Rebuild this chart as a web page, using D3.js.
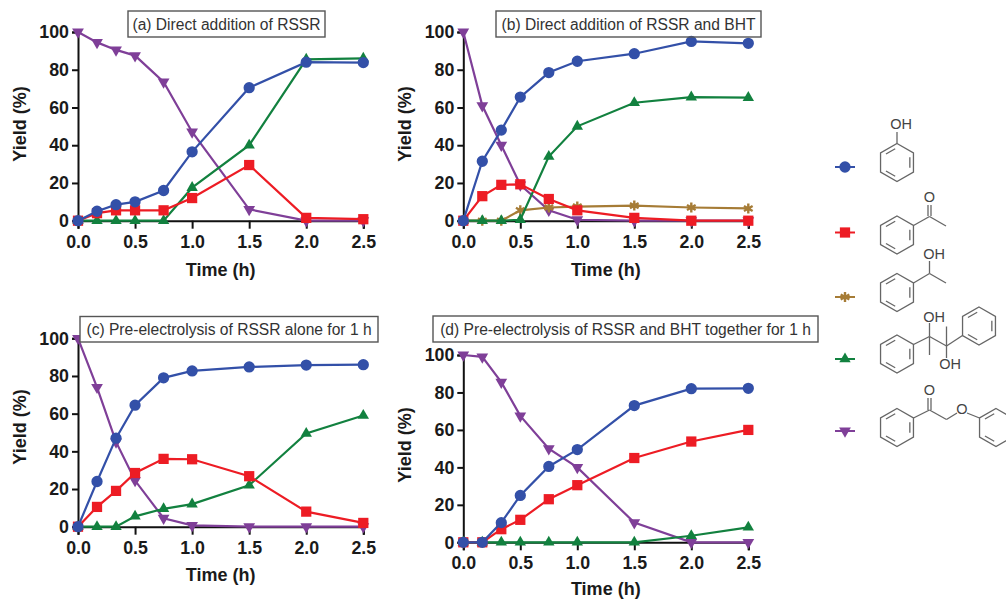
<!DOCTYPE html>
<html>
<head>
<meta charset="utf-8">
<script src="https://cdn.jsdelivr.net/npm/d3@7"></script>
<style>
  body { margin: 0; background: #fff; }
  svg { display: block; }
  text { font-family: "Liberation Sans", Arial, sans-serif; fill: #1a1a1a; }
  .tick text { font-size: 17.8px; font-weight: bold; }
  .axis-title { font-size: 18px; font-weight: bold; }
  .panel-title { font-size: 15.6px; fill: #333; }
  .atom { font-size: 14.5px; fill: #444; }
</style>
</head>
<body>
<svg id="chart" width="1006" height="599"></svg>
<script>
const times = [0, 1/6, 1/3, 0.5, 0.75, 1, 1.5, 2, 2.5];
const xTicks = [0, 0.5, 1, 1.5, 2, 2.5];
const yTicks = [0, 20, 40, 60, 80, 100];

const titles = [
  "(a) Direct addition of RSSR",
  "(b) Direct addition of RSSR and BHT",
  "(c) Pre-electrolysis of RSSR alone for 1 h",
  "(d) Pre-electrolysis of RSSR and BHT together for 1 h"
];

// a
const startA = [100, 94.5, 90.5, 87.5, 73.5, 47, 6, 0, 0];
const pinacolA = [0, 0, 0, 0, 0, 17.5, 40, 85.5, 86];
const ketoneA = [0, 4, 5.5, 5.5, 5.5, 12, 29.5, 1.5, 0.8];
const phenolA = [0, 5, 8.5, 10, 16, 36.5, 70.5, 84, 83.8];
// b
const startB = [100, 61, 40, 19, 5.5, 0.5, 0, 0, 0];
const pinacolB = [0, 0, 0, 0.5, 34, 50, 62.5, 65.5, 65.2];
const alcoholB = [0, 0, 0, 5.5, 7, 7.5, 8, 7, 6.5];
const ketoneB = [0, 13, 19, 19.3, 11.5, 5.5, 1.5, 0, 0];
const phenolB = [0, 31.5, 48, 65.5, 78.5, 84.5, 88.5, 95, 94];
// c
const startC = [100, 74, 45, 24.5, 4.5, 0.7, 0, 0, 0];
const pinacolC = [0, 0, 0, 5.5, 9.5, 12, 22, 49.5, 59];
const ketoneC = [0, 10.5, 19, 28.5, 36, 35.8, 26.8, 8, 2];
const phenolC = [0, 24, 47, 64.5, 79, 82.7, 84.8, 85.8, 86];
// d
const startD = [100, 99, 85.5, 67.5, 50, 40, 10.5, 0, 0];
const pinacolD = [0, 0, 0, 0, 0, 0, 0, 3.5, 8];
const ketoneD = [0, 0, 7, 12, 23, 30.5, 45, 53.8, 60];
const phenolD = [0, 0, 10.5, 25, 40.5, 49.5, 73, 82, 82.2];

const colors = {
  phenol: "#3350a8",
  ketone: "#ed1c24",
  alcohol: "#a67c36",
  pinacol: "#12813f",
  start: "#7f3f98"
};

const symbols = {
  phenol: d3.symbol().type(d3.symbolCircle).size(100),
  ketone: d3.symbol().type(d3.symbolSquare).size(105),
  alcohol: d3.symbol().type(d3.symbolAsterisk).size(70),
  pinacol: d3.symbol().type(d3.symbolTriangle).size(56),
  start: d3.symbol().type(d3.symbolTriangle).size(60)
};

// draw order is back to front, same as the original graph
const panels = [
  { x0: 78, x1: 363.3, y0: 220.7, y1: 32, labelX: 20, labelY: 124, titleY: 270,
    box: [128, 11, 197, 26],
    series: { start: startA, pinacol: pinacolA, ketone: ketoneA, phenol: phenolA } },
  { x0: 463.3, x1: 748.3, y0: 220.7, y1: 32, labelX: 405, labelY: 124, titleY: 270,
    box: [496, 11, 265, 26],
    series: { start: startB, alcohol: alcoholB, pinacol: pinacolB, ketone: ketoneB, phenol: phenolB } },
  { x0: 78, x1: 363.3, y0: 526.7, y1: 338.3, labelX: 20, labelY: 427, titleY: 575,
    box: [80, 316.5, 298, 25.5],
    series: { start: startC, pinacol: pinacolC, ketone: ketoneC, phenol: phenolC } },
  { x0: 463.3, x1: 748.3, y0: 542.3, y1: 355, labelX: 405, labelY: 445, titleY: 589,
    box: [433, 316, 385, 26],
    series: { start: startD, pinacol: pinacolD, ketone: ketoneD, phenol: phenolD } }
];

const svg = d3.select("#chart");

function marker(g, key) {
  const m = g.append("path").attr("d", symbols[key]());
  if (key === "alcohol") {
    m.attr("fill", "none").attr("stroke", colors[key]).attr("stroke-width", 2.4);
  } else {
    m.attr("fill", colors[key]);
  }
  return m;
}

panels.forEach((p, i) => {
  const x = d3.scaleLinear().domain([0, 2.5]).range([p.x0, p.x1]);
  const y = d3.scaleLinear().domain([0, 100]).range([p.y0, p.y1]);

  const xAxis = svg.append("g")
    .attr("transform", `translate(0,${p.y0})`)
    .call(d3.axisBottom(x).tickValues(xTicks).tickFormat(d3.format(".1f")).tickSizeOuter(0).tickSize(8).tickPadding(6.5));
  const yAxis = svg.append("g")
    .attr("transform", `translate(${p.x0},0)`)
    .call(d3.axisLeft(y).tickValues(yTicks).tickSizeOuter(0).tickSize(6).tickPadding(3));
  [xAxis, yAxis].forEach(a => {
    a.selectAll("path, line").attr("stroke", "#111").attr("stroke-width", 2);
  });

  svg.append("text").attr("class", "axis-title")
    .attr("x", (p.x0 + p.x1) / 2).attr("y", p.titleY + 6)
    .attr("text-anchor", "middle").text("Time (h)");
  svg.append("text").attr("class", "axis-title")
    .attr("transform", `translate(${p.labelX + 6},${p.labelY}) rotate(-90)`)
    .attr("text-anchor", "middle").text("Yield (%)");

  const line = d3.line().x((d, j) => x(times[j])).y(d => y(d));

  Object.entries(p.series).forEach(([key, values]) => {
    const g = svg.append("g");
    g.append("path")
      .attr("d", line(values))
      .attr("fill", "none")
      .attr("stroke", colors[key])
      .attr("stroke-width", 2.2);
    values.forEach((v, j) => {
      const flip = key === "start" ? " rotate(180)" : "";
      marker(g, key).attr("transform", `translate(${x(times[j])},${y(v)})${flip}`);
    });
  });

  const [bx, by, bw, bh] = p.box;
  svg.append("rect")
    .attr("x", bx).attr("y", by).attr("width", bw).attr("height", bh)
    .attr("fill", i === 2 || i === 3 ? "#fff" : "none")
    .attr("stroke", "#555").attr("stroke-width", 1.4);
  svg.append("text").attr("class", "panel-title")
    .attr("x", bx + bw / 2).attr("y", by + bh / 2 + 5.5)
    .attr("text-anchor", "middle").text(titles[i]);
});

// legend, marker on a short line + the structure next to it
const legendKeys = ["phenol", "ketone", "alcohol", "pinacol", "start"];
const legendY = [167, 232.5, 297, 359, 431];

legendKeys.forEach((key, i) => {
  const g = svg.append("g").attr("transform", `translate(845,${legendY[i]})`);
  g.append("line").attr("x1", -10).attr("x2", 10)
    .attr("stroke", colors[key]).attr("stroke-width", 2);
  const m = marker(g, key);
  if (key === "start") m.attr("transform", "rotate(180)");
});

const bondColor = "#666";

function bond(x1, y1, x2, y2) {
  svg.append("line")
    .attr("x1", x1).attr("y1", y1).attr("x2", x2).attr("y2", y2)
    .attr("stroke", bondColor).attr("stroke-width", 1.3);
}

function ring(cx, cy) {
  const r = 19;
  const pts = d3.range(6).map(k => {
    const a = Math.PI / 3 * k;
    return [cx + r * Math.sin(a), cy - r * Math.cos(a)];
  });
  svg.append("path")
    .attr("d", d3.line().curve(d3.curveLinearClosed)(pts))
    .attr("fill", "none").attr("stroke", bondColor).attr("stroke-width", 1.3);
  // inner double bonds
  [1, 3, 5].forEach(k => {
    const a = pts[k], b = pts[(k + 1) % 6];
    const s = 0.78;
    const t = 0.14;
    const ax = cx + (a[0] - cx) * s, ay = cy + (a[1] - cy) * s;
    const bx = cx + (b[0] - cx) * s, by = cy + (b[1] - cy) * s;
    bond(ax + (bx - ax) * t, ay + (by - ay) * t, bx - (bx - ax) * t, by - (by - ay) * t);
  });
}

function atom(x, y, s) {
  svg.append("text").attr("class", "atom")
    .attr("x", x).attr("y", y + 5).attr("text-anchor", "middle").text(s);
}

// phenol
ring(897, 162.5);
bond(897, 143.5, 897, 132);
atom(901, 124, "OH");

// acetophenone
ring(897, 235);
bond(913.5, 225.5, 929.5, 216.5);
bond(928, 216, 928, 205);
bond(931, 216, 931, 205);
bond(929.5, 216.5, 946, 226);
atom(929.5, 197, "O");

// 1-phenylethanol
ring(897, 292.5);
bond(913.5, 283, 929.5, 273.5);
bond(929.5, 273.5, 946, 283);
bond(929.5, 273.5, 929.5, 261);
atom(934, 254, "OH");

// pinacol
ring(897, 354);
ring(979, 326);
bond(913.5, 344.5, 929.5, 336.5);
bond(929.5, 336.5, 946.5, 346);
bond(946.5, 346, 962.5, 335.5);
bond(929.5, 336.5, 929.5, 323);
bond(929.5, 336.5, 929.5, 355);
bond(946.5, 346, 946.5, 326.5);
bond(946.5, 346, 946.5, 358);
atom(934, 317, "OH");
atom(950, 364, "OH");

// phenacyl phenyl ether
ring(897, 427.5);
ring(996, 427.5);
bond(913.5, 418, 929.5, 410);
bond(928, 410, 928, 398);
bond(931, 410, 931, 398);
bond(929.5, 410, 946.5, 419.5);
bond(946.5, 419.5, 957, 413);
bond(967, 413, 979.5, 418);
atom(929.5, 390, "O");
atom(962, 409, "O");
</script>
</body>
</html>
